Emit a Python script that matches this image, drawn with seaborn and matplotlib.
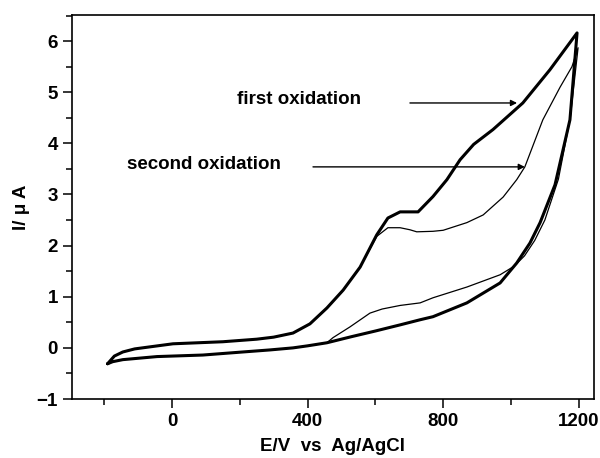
import matplotlib
matplotlib.use("Agg")
import matplotlib.pyplot as plt
import seaborn as sns
import pandas as pd
from matplotlib.ticker import MultipleLocator

# first oxidation scan (thick curve), forward then reverse
e_first_fwd = [-190, -170, -145, -110, -65, 3, 150, 250, 300, 357, 407, 457, 505, 555, 604, 637, 673, 726, 770, 811, 850, 890, 947, 1035, 1115, 1195]
i_first_fwd = [-0.31, -0.16, -0.08, -0.02, 0.02, 0.08, 0.12, 0.17, 0.21, 0.29, 0.47, 0.78, 1.13, 1.58, 2.21, 2.54, 2.66, 2.66, 2.96, 3.29, 3.68, 3.98, 4.27, 4.79, 5.44, 6.16]
e_first_rev = [1195, 1174, 1130, 1086, 1056, 1017, 968, 870, 770, 732, 673, 600, 530, 457, 400, 357, 289, 209, 91, -44, -145, -175, -190]
i_first_rev = [6.16, 4.46, 3.19, 2.45, 2.05, 1.66, 1.27, 0.88, 0.61, 0.55, 0.45, 0.33, 0.22, 0.10, 0.04, 0.0, -0.04, -0.08, -0.14, -0.17, -0.23, -0.27, -0.31]

# second oxidation scan (thin curve)
e_second_fwd = [-190, -170, -145, -110, -65, 3, 150, 250, 300, 357, 407, 457, 505, 555, 604, 637, 673, 702, 722, 770, 800, 870, 918, 977, 1017, 1041, 1094, 1145, 1180, 1198]
i_second_fwd = [-0.31, -0.16, -0.08, -0.02, 0.02, 0.08, 0.12, 0.17, 0.21, 0.29, 0.47, 0.78, 1.13, 1.58, 2.18, 2.35, 2.35, 2.31, 2.27, 2.28, 2.30, 2.45, 2.60, 2.95, 3.29, 3.54, 4.46, 5.10, 5.50, 5.87]
e_second_rev = [1198, 1175, 1140, 1100, 1070, 1040, 1010, 968, 870, 770, 732, 673, 620, 584, 525, 475, 457, 400, 357, 289, 209, 91, -44, -145, -175, -190]
i_second_rev = [5.87, 4.50, 3.30, 2.50, 2.10, 1.80, 1.60, 1.43, 1.19, 0.98, 0.88, 0.83, 0.76, 0.68, 0.41, 0.20, 0.10, 0.04, 0.0, -0.04, -0.08, -0.14, -0.17, -0.23, -0.27, -0.31]

x_ticks = [0, 400, 800, 1200]
y_ticks = [-1, 0, 1, 2, 3, 4, 5, 6]

first = pd.DataFrame({"E": e_first_fwd + e_first_rev, "I": i_first_fwd + i_first_rev})
second = pd.DataFrame({"E": e_second_fwd + e_second_rev, "I": i_second_fwd + i_second_rev})

sns.set_style("ticks")
plt.rcParams['font.family'] = ['Liberation Sans', 'DejaVu Sans']
plt.rcParams['font.weight'] = 'bold'
plt.rcParams['text.color'] = 'black'
plt.rcParams['axes.labelcolor'] = 'black'
plt.rcParams['xtick.color'] = 'black'
plt.rcParams['ytick.color'] = 'black'

fig = plt.figure(figsize=(6, 4.58), dpi=100)
ax = fig.add_axes([0.12, 0.1288, 0.87, 0.8384])

sns.lineplot(data=first, x="E", y="I", sort=False, estimator=None, errorbar=None,
             color="black", lw=2.2, ax=ax)
sns.lineplot(data=second, x="E", y="I", sort=False, estimator=None, errorbar=None,
             color="black", lw=0.9, ax=ax)

ax.set_xlim(-295, 1245)
ax.set_ylim(-1, 6.51)
ax.set_xticks(x_ticks)
ax.set_yticks(y_ticks)
ax.xaxis.set_minor_locator(MultipleLocator(200))
ax.yaxis.set_minor_locator(MultipleLocator(0.5))
ax.tick_params(which="major", direction="out", length=6.5, width=1.1, labelsize=13.5, colors="black")
ax.tick_params(which="minor", direction="out", length=4, width=1.1, colors="black")
for lab in ax.get_xticklabels() + ax.get_yticklabels():
    lab.set_fontweight("bold")
for s in ax.spines.values():
    s.set_linewidth(1.2)
    s.set_color("black")

ax.set_xlabel("E/V  vs  Ag/AgCl", fontsize=13.5, fontweight="bold", labelpad=6)
ax.set_ylabel("I/ \u03bc A", fontsize=13.5, fontweight="bold", labelpad=5)

ax.text(192, 4.85, "first oxidation", fontsize=13.5, fontweight="bold", va="center", ha="left")
ax.annotate("", xy=(1018, 4.79), xytext=(702, 4.79),
            arrowprops=dict(arrowstyle="-|>", color="black", lw=1, mutation_scale=9, shrinkA=0, shrinkB=0))
ax.text(-133, 3.58, "second oxidation", fontsize=13.5, fontweight="bold", va="center", ha="left")
ax.annotate("", xy=(1041, 3.54), xytext=(416, 3.54),
            arrowprops=dict(arrowstyle="-|>", color="black", lw=1, mutation_scale=9, shrinkA=0, shrinkB=0))

fig.savefig("out.png", dpi=100)
